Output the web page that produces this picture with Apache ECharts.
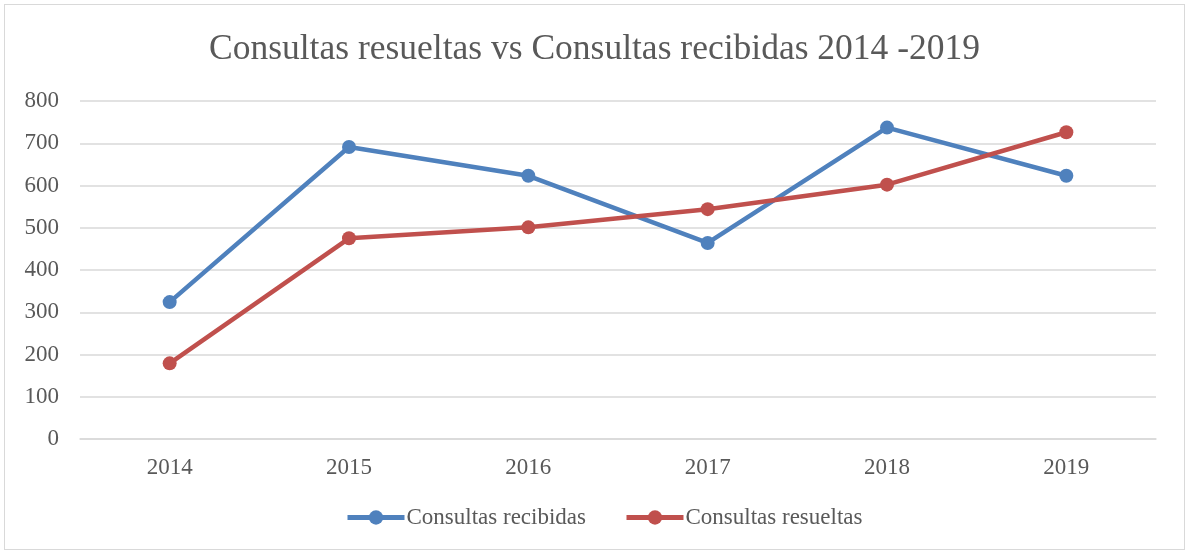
<!DOCTYPE html>
<html>
<head>
<meta charset="utf-8">
<script src="https://cdn.jsdelivr.net/npm/echarts@6/dist/echarts.min.js"></script>
<style>
  html, body { margin: 0; padding: 0; background: #fff; }
  #chart { position: absolute; left: 4px; top: 4px; width: 1181px; height: 546px; border: 1px solid #d9d9d9; box-sizing: border-box; }
</style>
</head>
<body>
<div id="chart"></div>
<script>
var years = ['2014', '2015', '2016', '2017', '2018', '2019'];
var recibidas = [324, 691, 623, 464, 737, 623];
var resueltas = [179, 475, 501, 544, 602, 726];

var chart = echarts.init(document.getElementById('chart'));
var font = 'Liberation Serif';

var option = {
    title: {
        text: 'Consultas resueltas vs Consultas recibidas 2014 -2019',
        left: 'center',
        top: 22,
        textStyle: { fontFamily: font, fontSize: 35.5, fontWeight: 'normal', color: '#595959' }
    },
    legend: {
        bottom: 20,
        left: 340,
        padding: 0,
        itemWidth: 57,
        itemHeight: 18,
        itemGap: 38,
        textStyle: { fontFamily: font, fontSize: 23, color: '#595959', padding: [0, 0, 0, -3] },
        data: [
            { name: 'Consultas recibidas', itemStyle: { color: '#4F81BD' }, lineStyle: { width: 5 } },
            { name: 'Consultas resueltas', itemStyle: { color: '#C0504D' }, lineStyle: { width: 5 } }
        ]
    },
    grid: { left: 75, right: 28, top: 96, bottom: 110 },
    xAxis: {
        type: 'category',
        data: years,
        axisLine: { lineStyle: { color: '#d9d9d9', width: 1.5 } },
        axisTick: { show: false },
        axisLabel: { fontFamily: font, fontSize: 23, color: '#595959', margin: 17 }
    },
    yAxis: {
        type: 'value',
        min: 0,
        max: 800,
        interval: 100,
        axisLine: { show: false },
        axisTick: { show: false },
        axisLabel: { fontFamily: font, fontSize: 23, color: '#595959', margin: 21 },
        splitLine: { lineStyle: { color: '#d9d9d9', width: 1.5 } }
    },
    series: [
        {
            name: 'Consultas recibidas',
            type: 'line',
            data: recibidas,
            symbol: 'circle',
            symbolSize: 14,
            color: '#4F81BD',
            lineStyle: { width: 4.5 }
        },
        {
            name: 'Consultas resueltas',
            type: 'line',
            data: resueltas,
            symbol: 'circle',
            symbolSize: 14,
            color: '#C0504D',
            lineStyle: { width: 4.5 }
        }
    ]
};

chart.setOption(option);
</script>
</body>
</html>
